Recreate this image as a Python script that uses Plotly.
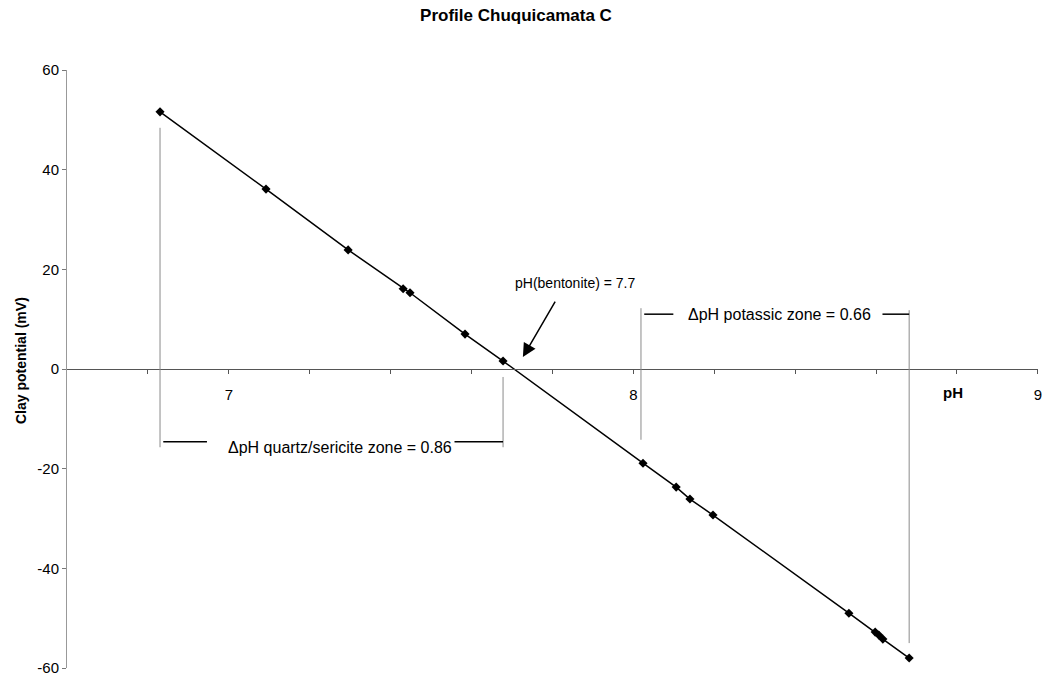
import plotly.graph_objects as go

# Data
ph = [6.830, 7.092, 7.295, 7.431, 7.448, 7.584, 7.678, 8.024, 8.106, 8.140,
      8.197, 8.533, 8.598, 8.607, 8.617, 8.682]
clay_mv = [51.6, 36.1, 23.9, 16.1, 15.3, 7.0, 1.6, -18.9, -23.7, -26.1,
           -29.3, -49.0, -52.8, -53.4, -54.2, -58.0]

x_tickvals = [6.8, 7.0, 7.2, 7.4, 7.6, 7.8, 8.0, 8.2, 8.4, 8.6, 8.8, 9.0]
x_ticktext = ["", "7", "", "", "", "", "8", "", "", "", "", "9"]
y_tickvals = [-60, -40, -20, 0, 20, 40, 60]
y_ticktext = ["-60", "-40", "-20", "0", "20", "40", "60"]

# zone limits (pH)
qs_zone = [6.830, 7.678]
k_zone = [8.019, 8.682]

FONT = "Arial, Liberation Sans, sans-serif"

W, H = 1045, 678
ML, MR, MT, MB = 67, 7, 70, 10
PW = W - ML - MR
PH = H - MT - MB

fig = go.Figure()

fig.add_trace(go.Scatter(
    x=ph, y=clay_mv, mode="lines+markers",
    line=dict(color="black", width=1.5),
    marker=dict(symbol="diamond", size=7, color="black"),
    showlegend=False, hoverinfo="skip"))

shapes = []
gray = dict(color="#8a8a8a", width=1)
blk = dict(color="black", width=1.5)
# quartz/sericite zone guides
shapes.append(dict(type="line", xref="x", yref="y", x0=qs_zone[0], x1=qs_zone[0], y0=48.4, y1=-15.7, line=gray))
shapes.append(dict(type="line", xref="x", yref="y", x0=qs_zone[1], x1=qs_zone[1], y0=-1.6, y1=-15.7, line=gray))
shapes.append(dict(type="line", xref="x", yref="y", x0=qs_zone[0] + 0.008, x1=qs_zone[0] + 0.116, y0=-14.6, y1=-14.6, line=blk))
shapes.append(dict(type="line", xref="x", yref="y", x0=qs_zone[1] - 0.12, x1=qs_zone[1], y0=-14.6, y1=-14.6, line=blk))
# potassic zone guides
shapes.append(dict(type="line", xref="x", yref="y", x0=k_zone[0], x1=k_zone[0], y0=12.2, y1=-14.2, line=gray))
shapes.append(dict(type="line", xref="x", yref="y", x0=k_zone[1], x1=k_zone[1], y0=11.8, y1=-55.0, line=gray))
shapes.append(dict(type="line", xref="x", yref="y", x0=k_zone[0] + 0.008, x1=k_zone[0] + 0.08, y0=11.0, y1=11.0, line=blk))
shapes.append(dict(type="line", xref="x", yref="y", x0=k_zone[1] - 0.066, x1=k_zone[1], y0=11.0, y1=11.0, line=blk))

annotations = [
    dict(x=7.275, y=-15.8, xref="x", yref="y", text="ΔpH quartz/sericite zone = 0.86",
         showarrow=False, font=dict(family=FONT, size=16, color="black"), xanchor="center", yanchor="middle"),
    dict(x=8.361, y=11.0, xref="x", yref="y", text="ΔpH potassic zone = 0.66",
         showarrow=False, font=dict(family=FONT, size=16, color="black"), xanchor="center", yanchor="middle"),
    dict(x=7.856, y=17.3, xref="x", yref="y", text="pH(bentonite) = 7.7",
         showarrow=False, font=dict(family=FONT, size=14, color="black"), xanchor="center", yanchor="middle"),
    dict(x=7.727, y=2.4, xref="x", yref="y", ax=7.809, ay=13.8, axref="x", ayref="y",
         text="", showarrow=True, arrowhead=2, arrowsize=1.8, arrowwidth=1.5, arrowcolor="black"),
    dict(x=8.79, y=-4.8, xref="x", yref="y", text="<b>pH</b>",
         showarrow=False, font=dict(family=FONT, size=15, color="black"), xanchor="center", yanchor="middle"),
    dict(x=(21 - ML) / PW, y=(H - MB - 361) / PH, xref="paper", yref="paper",
         text="<b>Clay potential (mV)</b>",
         showarrow=False, textangle=-90, font=dict(family=FONT, size=14, color="black"),
         xanchor="center", yanchor="middle"),
]

fig.update_layout(
    width=W, height=H,
    margin=dict(l=ML, r=MR, t=MT, b=MB, autoexpand=False),
    paper_bgcolor="white", plot_bgcolor="white",
    title=dict(text="<b>Profile Chuquicamata C</b>", x=516 / W, xanchor="center",
               y=1 - 15 / H, yanchor="middle", xref="container", yref="container",
               font=dict(family=FONT, size=17, color="black")),
    font=dict(family=FONT, size=14, color="black"),
    shapes=shapes, annotations=annotations,
    xaxis=dict(range=[6.6, 9.0005], anchor="free", position=0.5, automargin=False,
               tickvals=x_tickvals, ticktext=x_ticktext,
               showline=True, linecolor="#555555", linewidth=1,
               ticks="outside", ticklen=4, tickcolor="#555555",
               ticklabelstandoff=8,
               showgrid=False, zeroline=False,
               tickfont=dict(family=FONT, size=15, color="black")),
    yaxis=dict(range=[-60, 60], tickvals=y_tickvals, ticktext=y_ticktext, automargin=False,
               showline=True, linecolor="#999999", linewidth=1,
               ticks="outside", ticklen=4, tickcolor="#777777",
               showgrid=False, zeroline=False,
               tickfont=dict(family=FONT, size=15, color="black")),
)

fig.write_html("out.html", config={"displayModeBar": False},
               post_script="document.body.style.margin='0';document.body.style.overflow='hidden';")
